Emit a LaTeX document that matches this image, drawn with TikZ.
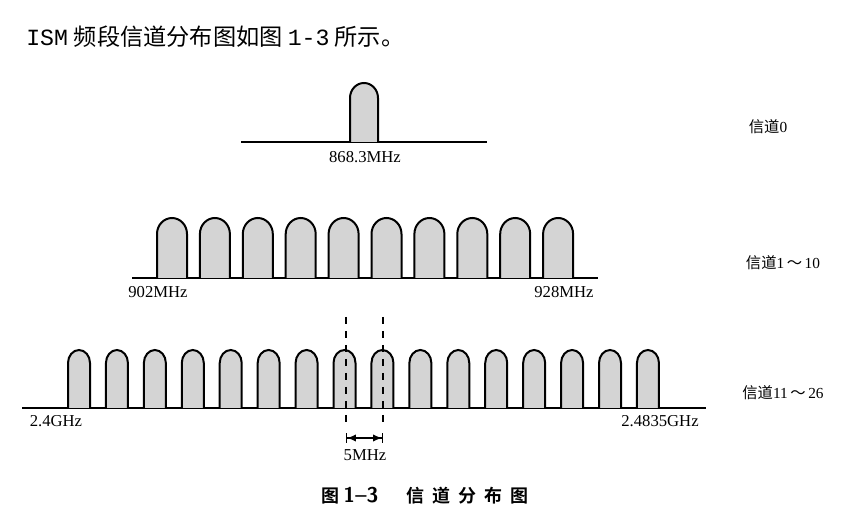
\documentclass[tikz,border=0pt]{standalone}
\usepackage{fontspec}
\setmainfont{Liberation Serif}
\newfontfamily\cjk{Noto Sans CJK SC}
\newfontfamily\cjkb{Noto Sans CJK SC Bold}
\newfontfamily\monof{Liberation Mono}
\usetikzlibrary{arrows.meta}
\begin{document}
\begin{tikzpicture}[x=0.75pt,y=-0.75pt,
  base/.style={line width=1.3pt},
  bump/.style={draw=black,fill=black!17,line width=1.5pt},
  lbl/.style={inner sep=0pt,font=\fontsize{12.5}{14}\selectfont},
  chlbl/.style={inner sep=0pt,font=\fontsize{11.5}{13}\selectfont},
  dashv/.style={line width=1.3pt,dash pattern=on 5.5pt off 5pt}]
\useasboundingbox (0,0) rectangle (865,513);
\fill[white] (0,0) rectangle (865,513);
% heading
\node[anchor=west,inner sep=0pt] (head) at (26,37)
  {\fontsize{17.4}{18}\selectfont{\monof ISM} \cjk 频段信道分布图如图 {\monof 1-3} 所示。};
% --- row 0
\draw[base] (241,142) -- (487,142);
\draw[bump] (350,142) -- (350,98) arc[start angle=180,end angle=360,x radius=14,y radius=15] -- (378,142);
\node[lbl] (f0) at (365,157) {868.3MHz};
\node[chlbl] (c0) at (768,127) {{\cjk 信道}0};
% --- row 1
\draw[base] (132,278) -- (598,278);
\foreach \i in {0,...,9}{
  \pgfmathsetmacro{\l}{157+42.9*\i}
  \draw[bump] (\l,278) -- (\l,234) arc[start angle=180,end angle=360,x radius=15,y radius=16] -- (\l+30,278);
}
\node[lbl] (f1) at (158,292) {902MHz};
\node[lbl] (f2) at (564,292) {928MHz};
\node[chlbl] (c1) at (783,263) {{\cjk 信道}1\,{\cjk ～}\,10};
% --- row 2
\draw[base] (22,408) -- (706,408);
\foreach \i in {0,...,15}{
  \pgfmathsetmacro{\l}{68+37.93*\i}
  \draw[bump] (\l,408) -- (\l,363) arc[start angle=180,end angle=360,x radius=11,y radius=13] -- (\l+22,408);
}
\node[lbl] (f3) at (56,421) {2.4GHz};
\node[lbl] (f4) at (660,421) {2.4835GHz};
\node[chlbl] (c2) at (783,393) {{\cjk 信道}11\,{\cjk ～}\,26};
% dashed markers
\coordinate (d1t) at (346,317); \coordinate (d1b) at (346,423);
\coordinate (d2t) at (383,317); \coordinate (d2b) at (383,423);
\draw[dashv] (d1t) -- (d1b);
\draw[dashv] (d2t) -- (d2b);
\coordinate (a1) at (346,438); \coordinate (a2) at (383,438);
\draw[line width=0.9pt,{Bar[width=7pt]Latex[length=6.5pt,width=5.5pt]}-{Latex[length=6.5pt,width=5.5pt]Bar[width=7pt]}] (a1) -- (a2);
\node[lbl] (bw) at (365,455) {5MHz};
% caption
\node[anchor=west,inner sep=0pt] (cap) at (321,496)
  {\fontsize{13.5}{15}\selectfont\cjkb 图\hspace{3pt}{\fontsize{16}{15}\selectfont\sffamily\bfseries 1--3}\hspace{21pt}信\hspace{6pt}道\hspace{6pt}分\hspace{6pt}布\hspace{6pt}图};
\end{tikzpicture}
\end{document}
